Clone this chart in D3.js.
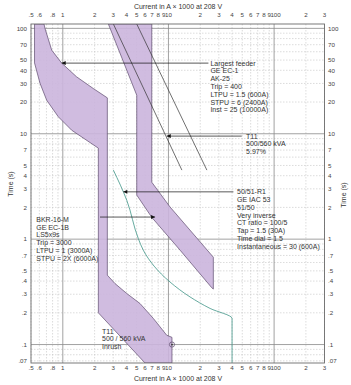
<!DOCTYPE html>
<html>
<head>
<meta charset="utf-8">
<script src="https://cdn.jsdelivr.net/npm/d3@7"></script>
<style>
body { margin: 0; background: #fff; }
svg { display: block; font-family: "Liberation Sans", Arial, sans-serif; }
</style>
</head>
<body>
<svg id="chart" width="351" height="385"></svg>
<script>
// current axis (A x 1000), every gridline, and the labels printed under each
var xTicks = [.5, .6, .7, .8, .9, 1, 2, 3, 4, 5, 6, 7, 8, 9, 10, 20, 30, 40, 50, 60, 70, 80, 90, 100, 200, 300]
var xTickLabels = ['.5', '.6', '', '.8', '', '1', '2', '3', '4', '5', '6', '7', '8', '9', '10', '2', '3', '4', '5', '6', '7', '8', '9', '100', '2', '3']
var xMajor = [1, 10, 100]

// time axis (s)
var yTicks = [.07, .08, .09, .1, .2, .3, .4, .5, .6, .7, .8, .9, 1, 2, 3, 4, 5, 6, 7, 8, 9, 10, 20, 30, 40, 50, 60, 70, 80, 90, 100]
var yLabelVals = [.07, .1, .2, .3, .4, .5, .7, 1, 2, 3, 4, 5, 7, 10, 20, 30, 40, 50, 70, 100]
var yLabelText = ['.07', '.1', '.2', '.3', '.4', '.5', '.7', '1', '2', '3', '4', '5', '7', '10', '20', '30', '40', '50', '70', '100']
var yMajor = [.1, 1, 10, 100]

// BKR-16-M breaker band (current, time), plus the T11 inrush region below
var bkrBand = [
  [0.54, 110], [0.54, 47], [0.608, 30.2], [0.704, 20.8], [0.906, 14.5], [1.214, 10.8],
  [2.17, 7.3], [2.17, 0.2], [6.0, 0.0668], [10.8, 0.0668], [10.8, 0.117],
  [9.63, 0.1225], [7.19, 0.177], [5.38, 0.245], [4.03, 0.305], [3.12, 0.379], [2.64, 0.455],
  [2.64, 21.9], [1.94, 26.9], [1.35, 34.7], [0.976, 46.8], [0.785, 62.2], [0.678, 100], [0.664, 110]
]

// 50/51-R1 relay band
var relayBand = [
  [2.70, 110], [5.01, 23.2], [5.01, 2.62], [6.95, 1.61], [12.9, 0.785], [25.7, 0.346],
  [26.6, 0.336], [26.6, 0.674], [10.35, 2.02], [6.95, 3.47], [6.95, 110]
]

// T11 damage curves
var t11Lines = [
  [[3.01, 110], [13.4, 4.52]],
  [[5.01, 110], [23.1, 4.52]]
]

// teal curve
var tealCurve = [
  [3.01, 4.52], [4.03, 2.34], [5.19, 1.01], [5.78, 0.785], [10.35, 0.392],
  [16.0, 0.283], [24.8, 0.22], [40, 0.177], [40, 0.0668]
]

var inrushPoint = [10.8, 0.1]

// arrows: from, to (arrowhead at "to")
var arrows = [
  [[23.9, 46.8], [0.976, 46.8]],
  [[49.4, 9.5], [9.63, 9.5]],
  [[41.2, 2.81], [3.74, 2.81]],
  [[2.25, 1.62], [7.47, 1.62]]
]

var notes = [
  {x: 23.9, y: 46.8, lines: ['Largest feeder', 'GE EC-1', 'AK-25', 'Trip = 400', 'LTPU = 1.5 (600A)', 'STPU = 6 (2400A)', 'Inst = 25 (10000A)']},
  {x: 52, y: 9.5, lines: ['T11', '500/560 kVA', '5.97%']},
  {x: 42.7, y: 2.81, lines: ['50/51-R1', 'GE IAC 53', '51/50', 'Very inverse', 'CT ratio = 100/5', 'Tap = 1.5 (30A)', 'Time dial = 1.5', 'Instantaneous = 30 (600A)']},
  {x: 0.537, y: 1.54, lines: ['BKR-16-M', 'GE EC-1B', 'LS5x9s', 'Trip = 3000', 'LTPU = 1 (3000A)', 'STPU = 2X (6000A)']},
  {x: 2.25, y: 0.134, lines: ['T11', '500 / 560 kVA', 'Inrush']}
]

var xTitle = 'Current in A \u00d7 1000 at 208 V'
var yTitle = 'Time (s)'

var svg = d3.select('#chart')
var x = d3.scaleLog().domain([0.5, 300]).range([31, 324.5])
var y = d3.scaleLog().domain([0.0668, 110]).range([363, 24])
var x0 = x.range()[0], x1 = x.range()[1], y0 = y.range()[1], y1 = y.range()[0]

var defs = svg.append('defs')
defs.append('clipPath').attr('id', 'plot')
  .append('rect').attr('x', x0).attr('y', y0).attr('width', x1 - x0).attr('height', y1 - y0)
defs.append('marker')
  .attr('id', 'head')
  .attr('viewBox', '0 0 10 10')
  .attr('refX', 10).attr('refY', 5)
  .attr('markerWidth', 5).attr('markerHeight', 4)
  .attr('markerUnits', 'userSpaceOnUse')
  .attr('orient', 'auto')
  .append('path').attr('d', 'M0,0L10,5L0,10Z').attr('fill', '#111')

// grid
var grid = svg.append('g')
grid.selectAll('line.vx').data(xTicks.filter(d => xMajor.indexOf(d) < 0)).join('line')
  .attr('x1', d => x(d)).attr('x2', d => x(d)).attr('y1', y0).attr('y2', y1)
  .attr('stroke', '#c4c4c4').attr('stroke-width', 0.6).attr('stroke-dasharray', '1.5,1.5')
grid.selectAll('line.hy').data(yTicks.filter(d => yMajor.indexOf(d) < 0)).join('line')
  .attr('x1', x0).attr('x2', x1).attr('y1', d => y(d)).attr('y2', d => y(d))
  .attr('stroke', '#c4c4c4').attr('stroke-width', 0.6).attr('stroke-dasharray', '1.5,1.5')
grid.selectAll('line.mx').data(xMajor).join('line')
  .attr('x1', d => x(d)).attr('x2', d => x(d)).attr('y1', y0).attr('y2', y1)
  .attr('stroke', '#8a8a8a').attr('stroke-width', 0.8)
grid.selectAll('line.my').data(yMajor).join('line')
  .attr('x1', x0).attr('x2', x1).attr('y1', d => y(d)).attr('y2', d => y(d))
  .attr('stroke', '#8a8a8a').attr('stroke-width', 0.8)

var line = d3.line().x(d => x(d[0])).y(d => y(d[1]))
var plot = svg.append('g').attr('clip-path', 'url(#plot)')

plot.selectAll('path.band').data([bkrBand, relayBand]).join('path')
  .attr('d', d => line(d) + 'Z')
  .attr('fill', '#cbb5dd').attr('fill-opacity', 0.9)
  .attr('stroke', '#5e4c6e').attr('stroke-width', 0.7)

plot.selectAll('path.t11').data(t11Lines).join('path')
  .attr('d', line).attr('fill', 'none')
  .attr('stroke', '#333').attr('stroke-width', 0.7)

plot.append('path').datum(tealCurve)
  .attr('d', d3.line().x(d => x(d[0])).y(d => y(d[1])).curve(d3.curveMonotoneY))
  .attr('fill', 'none').attr('stroke', '#3f9486').attr('stroke-width', 0.8)

plot.append('circle')
  .attr('cx', x(inrushPoint[0])).attr('cy', y(inrushPoint[1])).attr('r', 2.6)
  .attr('fill', 'none').attr('stroke', '#5e4c6e').attr('stroke-width', 0.7)
plot.append('circle')
  .attr('cx', x(inrushPoint[0])).attr('cy', y(inrushPoint[1])).attr('r', 0.9)
  .attr('fill', '#333')

svg.selectAll('path.arrow').data(arrows).join('path')
  .attr('d', line).attr('fill', 'none')
  .attr('stroke', '#111').attr('stroke-width', 0.7)
  .attr('marker-end', 'url(#head)')

// border
svg.append('rect')
  .attr('x', x0).attr('y', y0).attr('width', x1 - x0).attr('height', y1 - y0)
  .attr('fill', 'none').attr('stroke', '#6a6a6a').attr('stroke-width', 0.9)

// notes
var noteSel = svg.selectAll('text.note').data(notes).join('text')
  .attr('font-size', 7).attr('fill', '#333')
noteSel.selectAll('tspan').data(d => d.lines.map((s, i) => ({s, i, d}))).join('tspan')
  .attr('x', e => x(e.d.x) + 2)
  .attr('y', e => y(e.d.y) + e.i*7.8 + 2.4)
  .text(e => e.s)

// tick labels
var tickFont = 6.2
;[16.5, 369.5].forEach(ty => {
  svg.append('g').selectAll('text').data(xTicks.map((d, i) => [d, xTickLabels[i]]).filter(d => d[1])).join('text')
    .attr('x', d => x(d[0]) + (d[0] == 100 ? 1.5 : 0)).attr('y', ty)
    .attr('text-anchor', 'middle').attr('font-size', tickFont).attr('fill', '#444')
    .text(d => d[1])
})
svg.append('g').selectAll('text').data(yLabelVals).join('text')
  .attr('x', 27).attr('y', d => y(d) + 2.2)
  .attr('text-anchor', 'end').attr('font-size', tickFont).attr('fill', '#444')
  .text((d, i) => yLabelText[i])
svg.append('g').selectAll('text').data(yLabelVals).join('text')
  .attr('x', 328).attr('y', d => y(d) + 2.2)
  .attr('text-anchor', 'start').attr('font-size', tickFont).attr('fill', '#444')
  .text((d, i) => yLabelText[i])

// axis titles
;[8.5, 380.5].forEach(ty => {
  svg.append('text').attr('x', 178).attr('y', ty)
    .attr('text-anchor', 'middle').attr('font-size', 7).attr('fill', '#333')
    .text(xTitle)
})
;[[11, 184], [343.5, 195]].forEach(p => {
  svg.append('text')
    .attr('transform', 'translate(' + p[0] + ',' + p[1] + ') rotate(-90)')
    .attr('dy', '0.35em')
    .attr('text-anchor', 'middle').attr('font-size', 7).attr('fill', '#333')
    .text(yTitle)
})
</script>
</body>
</html>
